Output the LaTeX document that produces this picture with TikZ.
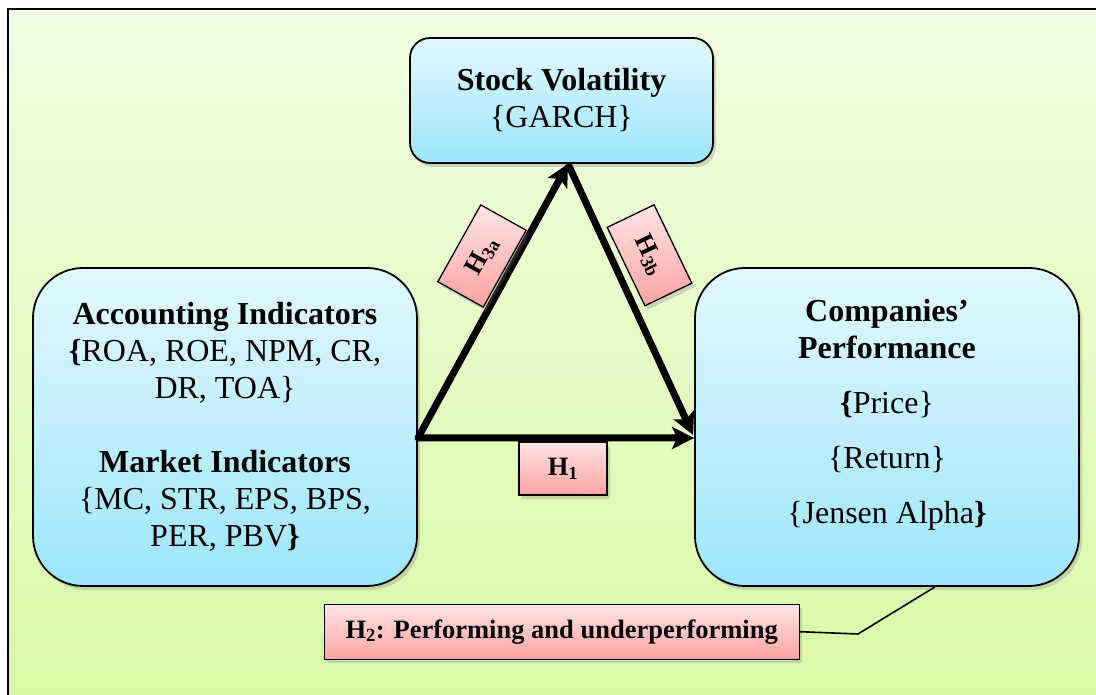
\documentclass[tikz,border=0pt]{standalone}
\usepackage{fontspec}
\setmainfont{Liberation Serif}
\usetikzlibrary{shadows,arrows.meta,calc}
\definecolor{bgtop}{HTML}{F1FDE3}
\definecolor{bgbot}{HTML}{D8FAA5}
\definecolor{bluetop}{HTML}{E2F8FE}
\definecolor{bluebot}{HTML}{9DE6FD}
\definecolor{pinktop}{HTML}{FFE4E4}
\definecolor{pinkbot}{HTML}{FFA2A2}
\begin{document}
\begin{tikzpicture}[x=1pt,y=1pt,
  softshadow/.style={drop shadow={opacity=0.3, shadow xshift=3pt, shadow yshift=-4pt}},
  bluebox/.style={draw=black, line width=1.8pt, rounded corners=#1, top color=bluetop, bottom color=bluebot, softshadow},
  bluebox/.default=50pt,
  bigtext/.style={font=\fontsize{32}{37}\selectfont, align=center},
  hlabel/.style={draw=black, line width=1.3pt, top color=pinktop, bottom color=pinkbot, font=\fontsize{26.5}{30}\selectfont\bfseries, inner sep=0pt, softshadow},
  arr/.style={line width=7pt, line join=round, draw=black},
  tipA/.style={-{Stealth[length=22pt,width=22pt,inset=5pt]}},
  conn/.style={line width=1.6pt, draw=black}
]
\useasboundingbox (0,0) rectangle (1096,695);
% background frame
\draw[line width=2pt, top color=bgtop, bottom color=bgbot] (8,686) rectangle (1104,-8);

% boxes
\node[bluebox=20pt, minimum width=303pt, minimum height=125pt, bigtext] (vol) at (561.5,594.5)
  {\textbf{Stock Volatility}\\\{GARCH\}};
\node[bluebox, minimum width=384pt, minimum height=318pt, bigtext] (acc) at (225,268)
  {\textbf{Accounting Indicators}\\\textbf{\{}ROA, ROE, NPM, CR,\\DR, TOA\}\\[37pt]\textbf{Market Indicators}\\\{MC, STR, EPS, BPS,\\PER, PBV\textbf{\}}};
\node[bluebox, minimum width=384pt, minimum height=318pt] (perf) at (887,268) {};
\node[bigtext] (perftext) at (887,280)
  {\textbf{Companies’}\\\textbf{Performance}\\[18pt]\textbf{\{}Price\}\\[18pt]\{Return\}\\[18pt]\{Jensen Alpha\textbf{\}}};

% connector points
\coordinate (v) at ($(acc.east)+(0,-11)$);
\coordinate (apex) at ($(vol.south)+(6.5,0)$);
\coordinate (tip2) at ($(perf.west)+(-1,-8)$);

% arrows
\draw[arr, {Stealth[length=22pt,width=22pt,inset=5pt]}-{Stealth[length=22pt,width=22pt,inset=5pt]}] (apex) -- (v) -- (v -| perf.west);
\draw[arr, tipA] (apex) -- (tip2);

% hypothesis labels
\node[hlabel, minimum width=88pt, minimum height=53pt] (h1) at (563,226.5) {H\textsubscript{1}};
\node[hlabel, minimum width=88pt, minimum height=52pt, rotate=60.8] (h3a) at (482,439) {H\textsubscript{3a}};
\node[hlabel, minimum width=87pt, minimum height=52pt, rotate=-64.3] (h3b) at (649.5,439.7) {H\textsubscript{3b}};
\node[hlabel, minimum width=475pt, minimum height=55pt] (h2) at (561.7,63.3) {H\textsubscript{2}: Performing and underperforming};

% H2 connector
\coordinate (knee) at (858,61);
\draw[conn] (h2.east) -- (knee) -- ($(perf.south)+(48,0)$);
\end{tikzpicture}
\end{document}
